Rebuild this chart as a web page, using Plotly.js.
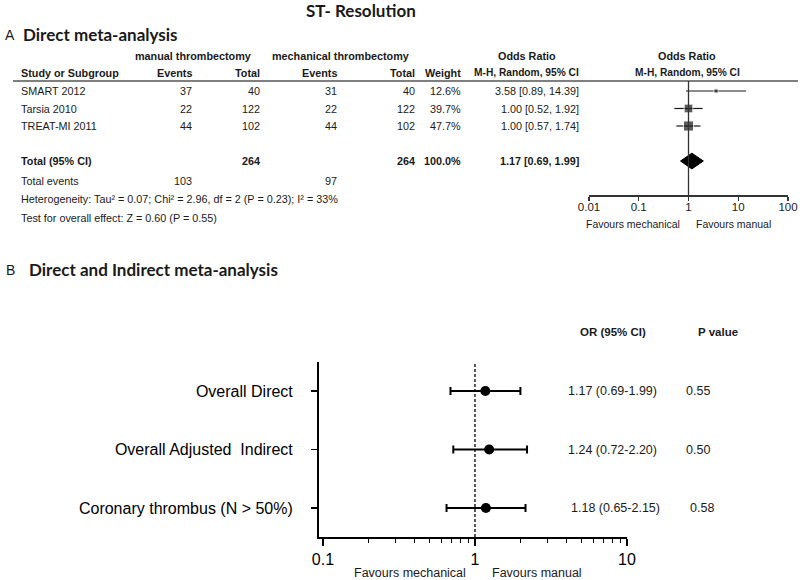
<!DOCTYPE html>
<html>
<head>
<meta charset="utf-8">
<script src="https://cdn.plot.ly/plotly-3.0.1.min.js"></script>
<style>html,body{margin:0;padding:0;background:#fff;}#chart{width:800px;height:580px;}</style>
</head>
<body>
<div id="chart"></div>
<script>
// ---------- Panel A data (direct meta-analysis) ----------
const studies = ['SMART 2012', 'Tarsia 2010', 'TREAT-MI 2011'];
const manualEvents = [37, 22, 44];
const manualTotal = [40, 122, 102];
const mechEvents = [31, 22, 44];
const mechTotal = [40, 122, 102];
const weights = [12.6, 39.7, 47.7];
const orA = [3.58, 1.00, 1.00];
const loA = [0.89, 0.52, 0.57];
const hiA = [14.39, 1.92, 1.74];
const pooledOR = [1.17];
const pooledLo = [0.69];
const pooledHi = [1.99];
const heteroText = 'Heterogeneity: Tau² = 0.07; Chi² = 2.96, df = 2 (P = 0.23); I² = 33%';
const effectText = 'Test for overall effect: Z = 0.60 (P = 0.55)';
const tickValsA = [0.01, 0.1, 1, 10, 100];
const tickTextA = ['0.01', '0.1', '1', '10', '100'];

// ---------- Panel B data (direct and indirect) ----------
const compLabels = ['Overall Direct', 'Overall Adjusted  Indirect', 'Coronary thrombus (N > 50%)'];
const orB = [1.17, 1.24, 1.18];
const loB = [0.69, 0.72, 0.65];
const hiB = [1.99, 2.20, 2.15];
const pB = ['0.55', '0.50', '0.58'];
const tickValsB = [0.1, 1, 10];
const tickTextB = ['0.1', '1', '10'];

// ---------- helpers ----------
const W = 800, H = 580;
const px = x => x / W;
const py = y => 1 - y / H;
const sum = a => a.reduce((s, v) => s + v, 0);
const f2 = v => v.toFixed(2);

const NARROW = 'Liberation Sans Narrow, Arial Narrow, Liberation Sans, Arial, sans-serif';
const ARIAL = 'Liberation Sans, Arial, sans-serif';
const HEAD = 'Lato, Open Sans, sans-serif';
const ink = '#1a1a1a';
const TS = 10.8; // table font size

const ann = [];
function txt(x, y, text, opts) {
  opts = opts || {};
  ann.push({
    xref: 'paper', yref: 'paper', x: px(x), y: py(y), text: text,
    showarrow: false, xanchor: opts.xa || 'left', yanchor: 'middle', borderpad: 0,
    font: {family: opts.family || NARROW, size: opts.size || TS, color: opts.color || ink}
  });
}

// titles
txt(361, 11, '<b>ST- Resolution</b>', {xa: 'center', family: HEAD, size: 17});
txt(4, 35, 'A', {family: ARIAL, size: 14});
txt(22, 34, '<b>Direct meta-analysis</b>', {family: HEAD, size: 17});
txt(5, 270, 'B', {family: ARIAL, size: 14});
txt(28, 270, '<b>Direct and Indirect meta-analysis</b>', {family: HEAD, size: 17});

// Panel A table headers
const rowH1 = 56, rowH2 = 73;
txt(193, rowH1, '<b>manual thrombectomy</b>', {xa: 'center'});
txt(340, rowH1, '<b>mechanical thrombectomy</b>', {xa: 'center'});
txt(527, rowH1, '<b>Odds Ratio</b>', {xa: 'center'});
txt(687, rowH1, '<b>Odds Ratio</b>', {xa: 'center'});
txt(20, rowH2, '<b>Study or Subgroup</b>');
const colR = {me: 193, mt: 261, ce: 338, ct: 416, w: 462, or: 580};
txt(colR.me, rowH2, '<b>Events</b>', {xa: 'right'});
txt(colR.mt, rowH2, '<b>Total</b>', {xa: 'right'});
txt(colR.ce, rowH2, '<b>Events</b>', {xa: 'right'});
txt(colR.ct, rowH2, '<b>Total</b>', {xa: 'right'});
txt(colR.w, rowH2, '<b>Weight</b>', {xa: 'right'});
txt(colR.or, rowH2, '<b>M-H, Random, 95% CI</b>', {xa: 'right', size: 10.2});
txt(687, rowH2, '<b>M-H, Random, 95% CI</b>', {xa: 'center', size: 10.2});

// Panel A study rows
const rowYs = [91, 109, 126];
studies.forEach((s, i) => {
  const y = rowYs[i];
  txt(20, y, s);
  txt(colR.me, y, String(manualEvents[i]), {xa: 'right'});
  txt(colR.mt, y, String(manualTotal[i]), {xa: 'right'});
  txt(colR.ce, y, String(mechEvents[i]), {xa: 'right'});
  txt(colR.ct, y, String(mechTotal[i]), {xa: 'right'});
  txt(colR.w, y, weights[i].toFixed(1) + '%', {xa: 'right'});
  txt(colR.or, y, `${f2(orA[i])} [${f2(loA[i])}, ${f2(hiA[i])}]`, {xa: 'right'});
});
// total rows
const yTot = 161;
txt(20, yTot, '<b>Total (95% CI)</b>');
txt(colR.mt, yTot, '<b>' + sum(manualTotal) + '</b>', {xa: 'right'});
txt(colR.ct, yTot, '<b>' + sum(mechTotal) + '</b>', {xa: 'right'});
txt(colR.w, yTot, '<b>' + sum(weights).toFixed(1) + '%</b>', {xa: 'right'});
txt(colR.or, yTot, `<b>${f2(pooledOR[0])} [${f2(pooledLo[0])}, ${f2(pooledHi[0])}]</b>`, {xa: 'right'});
txt(20, 181, 'Total events');
txt(colR.me, 181, String(sum(manualEvents)), {xa: 'right'});
txt(colR.ce, 181, String(sum(mechEvents)), {xa: 'right'});
txt(20, 199, heteroText);
txt(20, 218, effectText);
txt(633, 224, 'Favours mechanical', {xa: 'center', size: 10.5});
txt(733, 224, 'Favours manual', {xa: 'center', size: 10.5});

// Panel B text columns
txt(613, 332, '<b>OR (95% CI)</b>', {xa: 'center', family: ARIAL, size: 11.5});
txt(718, 332, '<b>P value</b>', {xa: 'center', family: ARIAL, size: 11.5});
const rowYB = [391, 450, 508];
compLabels.forEach((c, i) => {
  txt(612 + (i === 2 ? 3 : 0), rowYB[i], `${f2(orB[i])} (${f2(loB[i])}-${f2(hiB[i])})`, {xa: 'center', size: 12.5});
  txt(698 + (i === 2 ? 4 : 0), rowYB[i], pB[i], {xa: 'center', size: 12.5});
});
txt(410, 573, 'Favours mechanical', {xa: 'center', size: 12.5});
txt(537, 573, 'Favours manual', {xa: 'center', size: 12.5});

// ---------- traces ----------
const sqSize = weights.map(w => 2 + w * 0.17);
const traces = [
  {
    type: 'scatter', mode: 'markers', xaxis: 'x', yaxis: 'y',
    x: orA, y: studies.map((s, i) => i + 1),
    marker: {symbol: 'square', size: sqSize, color: ink},
    error_x: {type: 'data', symmetric: false,
      array: hiA.map((h, i) => h - orA[i]), arrayminus: loA.map((l, i) => orA[i] - l),
      color: ink, thickness: 1.2, width: 0},
    hoverinfo: 'skip', showlegend: false
  },
  {
    type: 'scatter', mode: 'lines', xaxis: 'x', yaxis: 'y',
    x: [pooledLo[0], pooledOR[0], pooledHi[0], pooledOR[0], pooledLo[0]],
    y: [5, 5 - 0.45, 5, 5 + 0.45, 5],
    fill: 'toself', fillcolor: '#000', line: {color: '#000', width: 1},
    hoverinfo: 'skip', showlegend: false
  },
  {
    type: 'scatter', mode: 'markers', xaxis: 'x2', yaxis: 'y2',
    x: orB, y: compLabels.map((c, i) => i + 1),
    marker: {symbol: 'circle', size: 10, color: '#000'},
    error_x: {type: 'data', symmetric: false,
      array: hiB.map((h, i) => h - orB[i]), arrayminus: loB.map((l, i) => orB[i] - l),
      color: '#000', thickness: 2, width: 4},
    hoverinfo: 'skip', showlegend: false
  }
];

const minorB = [];
[0.1, 1].forEach(d => { for (let k = 2; k <= 9; k++) minorB.push(+(d * k).toFixed(2)); });

const layout = {
  width: W, height: H,
  margin: {l: 0, r: 0, t: 0, b: 0},
  paper_bgcolor: '#fff', plot_bgcolor: 'rgba(0,0,0,0)',
  showlegend: false,
  xaxis: {
    type: 'log', domain: [px(589), px(788)], range: [-2, 2], anchor: 'y',
    tickmode: 'array', tickvals: tickValsA, ticktext: tickTextA,
    ticks: 'outside', ticklen: 4, tickwidth: 1.3, tickcolor: '#333',
    ticklabelstandoff: -3,
    showline: true, linecolor: '#333', linewidth: 1.5,
    showgrid: false, zeroline: false, fixedrange: true,
    tickfont: {family: NARROW, size: 11.5, color: ink}
  },
  xaxis3: {
    type: 'log', overlaying: 'x', anchor: 'y', range: [-2, 2],
    tickmode: 'array', tickvals: tickValsA,
    ticks: 'inside', ticklen: 4, tickwidth: 1.3, tickcolor: '#333',
    showticklabels: false, showline: false, showgrid: false, zeroline: false
  },
  yaxis: {
    domain: [py(195), py(81)], range: [6.94, 0.43], anchor: 'x',
    visible: false, showgrid: false, zeroline: false
  },
  xaxis2: {
    type: 'log', domain: [px(319), px(627)], range: [-1.026, 1], anchor: 'y2',
    tickmode: 'array', tickvals: tickValsB, ticktext: tickTextB,
    ticks: 'outside', ticklen: 7, tickwidth: 1.5, tickcolor: '#000',
    minor: {tickmode: 'array', tickvals: minorB, ticks: 'outside', ticklen: 4, tickwidth: 1, tickcolor: '#000', showgrid: false},
    showline: true, linecolor: '#000', linewidth: 2,
    showgrid: false, zeroline: false,
    tickfont: {family: ARIAL, size: 16, color: '#000'}
  },
  yaxis2: {
    domain: [py(537), py(362)], range: [3.496, 0.504], anchor: 'x2',
    tickmode: 'array', tickvals: [1, 2, 3], ticktext: compLabels,
    ticks: 'outside', ticklen: 6, tickwidth: 1.5, tickcolor: '#000',
    ticklabelstandoff: 15,
    showline: true, linecolor: '#000', linewidth: 2,
    showgrid: false, zeroline: false,
    tickfont: {family: ARIAL, size: 16, color: '#000'}
  },
  shapes: [
    {type: 'line', xref: 'paper', yref: 'paper', x0: px(13), x1: px(798), y0: py(81), y1: py(81),
      line: {color: '#555', width: 1.5}},
    {type: 'line', xref: 'x', yref: 'y domain', x0: 1, x1: 1, y0: 0, y1: 1,
      line: {color: '#333', width: 1.3}},
    {type: 'line', xref: 'x2', yref: 'y2 domain', x0: 1, x1: 1, y0: 0, y1: 1,
      line: {color: '#000', width: 1.3, dash: '3px,2px'}}
  ],
  annotations: ann
};

Plotly.newPlot('chart', traces, layout, {staticPlot: true, displayModeBar: false});
</script>
</body>
</html>
